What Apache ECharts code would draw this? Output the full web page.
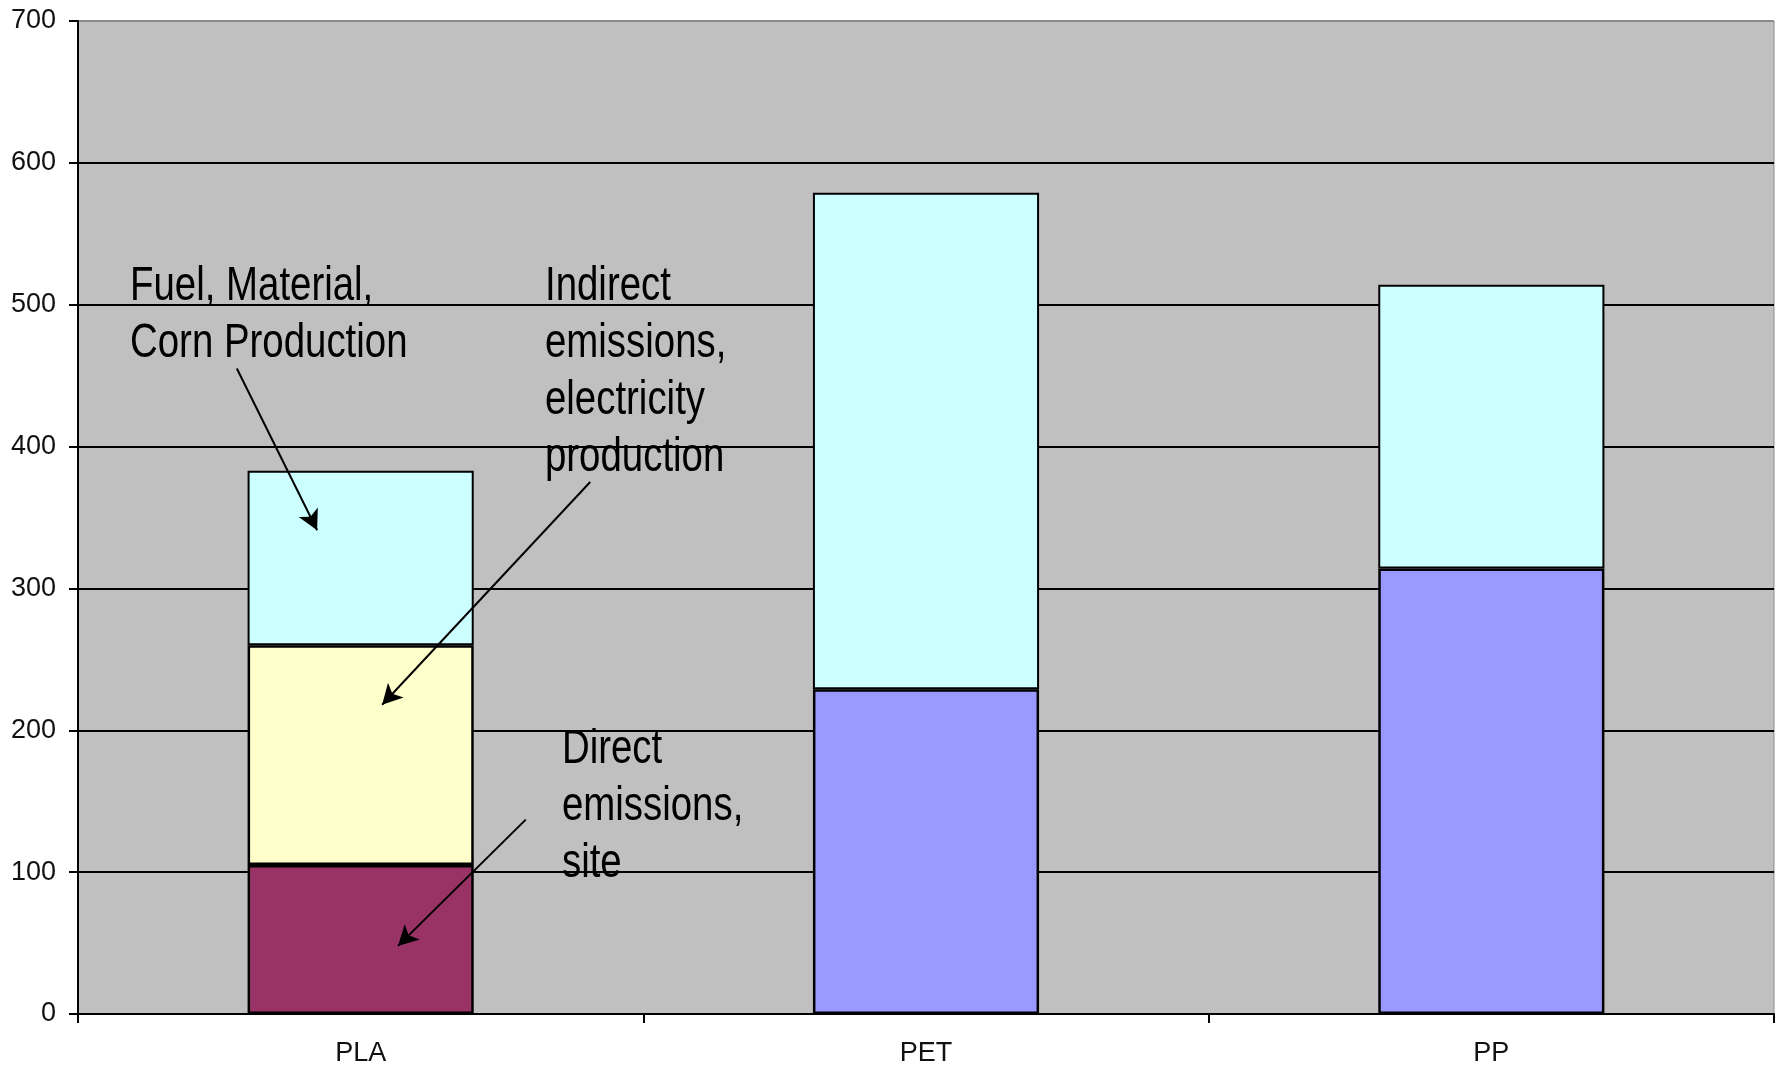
<!DOCTYPE html>
<html>
<head>
<meta charset="utf-8">
<script src="https://cdn.jsdelivr.net/npm/echarts@6/dist/echarts.min.js"></script>
<style>
  html, body { margin: 0; padding: 0; background: #fff; }
  #chart { width: 1778px; height: 1069px; }
</style>
</head>
<body>
<div id="chart"></div>
<script>
// Materials compared
const categories = ['PLA', 'PET', 'PP'];

// Stacked segments (bottom to top)
const directSite   = [105, null, null];   // Direct emissions, site (PLA)
const processTotal = [null, 229, 314];    // lower block for PET / PP
const indirectElec = [155, null, null];   // Indirect emissions, electricity production (PLA)
const fuelMaterial = [123, 350, 200];     // Fuel, Material, Corn Production

const yTicks = { min: 0, max: 700, interval: 100 };

// Callout texts: first-line baseline anchor in [category position, value]
const callouts = [
  { at: [0.092, 503], lines: ['Fuel, Material,', 'Corn Production'] },
  { at: [0.826, 503], lines: ['Indirect', 'emissions,', 'electricity', 'production'] },
  { at: [0.856, 177], lines: ['Direct', 'emissions,', 'site'] }
];
// Callout arrows: from -> to, in [category position, value]
const arrows = [
  [[0.281, 455], [0.423, 341]],
  [[0.906, 375], [0.538, 218]],
  [[0.792, 137], [0.566, 48]]
];

const chart = echarts.init(document.getElementById('chart'), null, { renderer: 'canvas' });

const barBase = {
  type: 'bar',
  stack: 'total',
  barCategoryGap: '60%',
  xAxisIndex: 0,
  yAxisIndex: 0
};
const border = { borderColor: '#000', borderWidth: 2 };

const gridColors = ['#000', '#000', '#000', '#000', '#000', '#000', '#000', '#8a8a8a'];
const tickFont = 'Liberation Sans, Arial, sans-serif';

chart.setOption({
  animation: false,
  backgroundColor: '#ffffff',
  grid: {
    left: 78, right: 4, top: 21, bottom: 55,
    show: true,
    backgroundColor: '#c0c0c0',
    borderColor: '#8a8a8a',
    borderWidth: 1
  },
  xAxis: [
    {
      type: 'category',
      data: categories,
      axisLine: { lineStyle: { color: '#000', width: 2 } },
      axisTick: { show: true, length: 9, lineStyle: { color: '#000', width: 2 } },
      axisLabel: { color: '#111', fontFamily: tickFont, fontSize: 27, margin: 26 },
      splitLine: { show: false }
    },
    {
      type: 'value', min: 0, max: 3, show: false
    }
  ],
  yAxis: {
    type: 'value',
    min: yTicks.min, max: yTicks.max, interval: yTicks.interval,
    axisLine: { show: true, lineStyle: { color: '#000', width: 2 } },
    axisTick: { show: true, length: 9, lineStyle: { color: '#000', width: 2 } },
    axisLabel: { color: '#111', fontFamily: tickFont, fontSize: 27, margin: 22 },
    splitLine: { show: true, lineStyle: { color: gridColors, width: 2 } }
  },
  series: [
    Object.assign({}, barBase, { name: 'Direct emissions, site', data: directSite,
      itemStyle: Object.assign({ color: '#993366' }, border, { borderWidth: 2.5 }) }),
    Object.assign({}, barBase, { name: 'Process', data: processTotal,
      itemStyle: Object.assign({ color: '#9999ff' }, border, { borderWidth: 2.5 }) }),
    Object.assign({}, barBase, { name: 'Indirect emissions, electricity production', data: indirectElec,
      itemStyle: Object.assign({ color: '#ffffcc' }, border, { borderWidth: 2.5 }) }),
    Object.assign({}, barBase, { name: 'Fuel, Material, Corn Production', data: fuelMaterial,
      itemStyle: Object.assign({ color: '#ccffff' }, border) }),
    {
      type: 'scatter',
      xAxisIndex: 1,
      yAxisIndex: 0,
      data: [],
      silent: true,
      markLine: {
        silent: true,
        symbol: ['none', 'arrow'],
        symbolSize: [16, 20],
        label: { show: false },
        lineStyle: { color: '#000', width: 2, type: 'solid' },
        data: arrows.map(a => [{ coord: a[0] }, { coord: a[1] }])
      }
    }
  ]
});

// Callout texts placed in axis space, drawn in a condensed sans
const fontSize = 48;
const lineGap = 57;
const narrow = 0.80;
const texts = [];
callouts.forEach(c => {
  const p = chart.convertToPixel({ xAxisIndex: 1, yAxisIndex: 0 }, c.at);
  c.lines.forEach((t, i) => {
    texts.push({
      type: 'text',
      silent: true,
      x: p[0],
      y: p[1] + i * lineGap - 0.78 * fontSize,
      scaleX: narrow,
      style: {
        text: t,
        fill: '#000',
        font: fontSize + 'px "Liberation Sans", Arial, sans-serif',
        align: 'left',
        verticalAlign: 'top'
      }
    });
  });
});
chart.setOption({ graphic: texts });
</script>
</body>
</html>
